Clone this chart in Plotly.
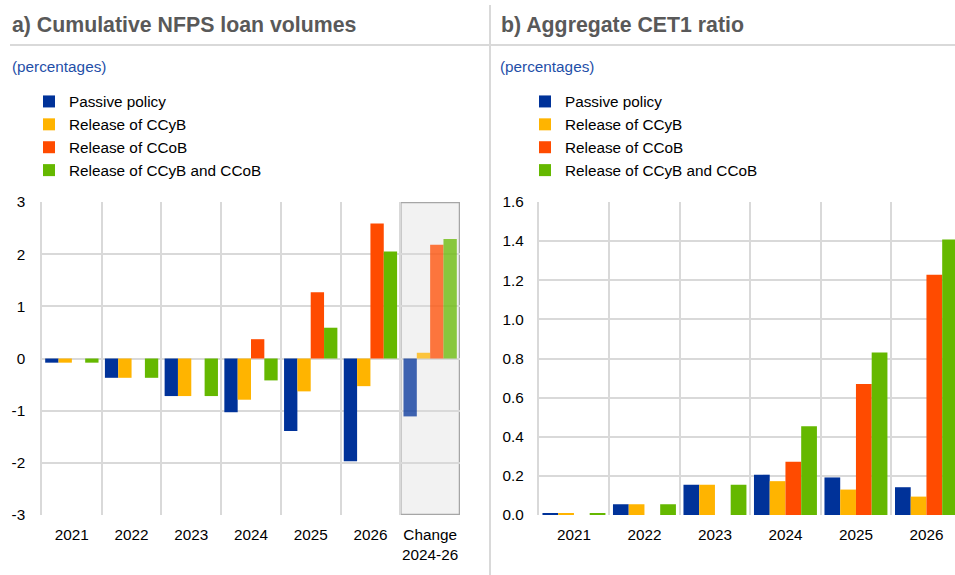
import plotly.graph_objects as go

# Panel a) cumulative NFPS loan volumes (percentages)
categories_a = ["2021", "2022", "2023", "2024", "2025", "2026", "Change<br>2024-26"]
passive_a = [-0.08, -0.37, -0.72, -1.03, -1.39, -1.97, -1.11]
ccyb_a = [-0.08, -0.37, -0.72, -0.79, -0.63, -0.53, 0.11]
ccob_a = [0.0, 0.0, 0.0, 0.37, 1.27, 2.59, 2.18]
both_a = [-0.08, -0.37, -0.72, -0.42, 0.59, 2.05, 2.29]
yticks_a = [-3, -2, -1, 0, 1, 2, 3]
yticklabels_a = ["-3", "-2", "-1", "0", "1", "2", "3"]

# Panel b) aggregate CET1 ratio (percentages)
categories_b = ["2021", "2022", "2023", "2024", "2025", "2026"]
passive_b = [0.006, 0.055, 0.154, 0.206, 0.192, 0.142]
ccyb_b = [0.006, 0.055, 0.154, 0.173, 0.130, 0.094]
ccob_b = [0.0, 0.0, 0.0, 0.272, 0.670, 1.228]
both_b = [0.006, 0.055, 0.154, 0.454, 0.831, 1.408]

series_names = ["Passive policy", "Release of CCyB", "Release of CCoB", "Release of CCyB and CCoB"]
colors = ["#003299", "#ffb400", "#ff4b00", "#65b800"]

W, H = 955, 575
FONT = "Arial, Liberation Sans, sans-serif"
GRID = "#d9d9d9"
FS = 15.3

fig = go.Figure()

# bars of the "Change" group are drawn lighter
op_a = [1, 1, 1, 1, 1, 1, 0.75]
for name, vals, col in zip(series_names, [passive_a, ccyb_a, ccob_a, both_a], colors):
    fig.add_trace(go.Bar(
        x=categories_a, y=vals, name=name, marker=dict(color=col, opacity=op_a, line=dict(width=0)),
        xaxis="x", yaxis="y", legend="legend", hoverinfo="x+y+name",
    ))
for name, vals, col in zip(series_names, [passive_b, ccyb_b, ccob_b, both_b], colors):
    fig.add_trace(go.Bar(
        x=categories_b, y=vals, name=name, marker=dict(color=col, line=dict(width=0)),
        xaxis="x2", yaxis="y2", legend="legend2", hoverinfo="x+y+name",
    ))

def px_x(p):
    return p / W

def px_y(p):
    return 1 - p / H

ydom = [px_y(515), px_y(202)]

common_x = dict(
    type="category", tickson="boundaries", showgrid=True, gridcolor=GRID, gridwidth=1.5,
    ticks="", ticklabelstandoff=9, showline=False, zeroline=False,
    tickangle=0, tickfont=dict(family=FONT, size=FS, color="#000000"),
)
common_y = dict(
    showgrid=True, gridcolor=GRID, gridwidth=1.5, zeroline=False,
    showline=True, linecolor=GRID, linewidth=1.5,
    ticks="outside", tickcolor="rgba(0,0,0,0)",
    tickfont=dict(family=FONT, size=FS, color="#000000"),
)
legend_common = dict(xanchor="left", yanchor="top", bgcolor="rgba(0,0,0,0)",
                     font=dict(family=FONT, size=FS, color="#000000"), traceorder="normal")

fig.update_layout(
    width=W, height=H, margin=dict(l=0, r=0, t=0, b=0),
    paper_bgcolor="white", plot_bgcolor="white", template="none",
    barmode="group", bargap=0.107, bargroupgap=0,
    font=dict(family=FONT, size=FS, color="#000000"),
    xaxis=dict(domain=[px_x(42), px_x(460)], range=[-0.5, 6.5], anchor="y", **common_x),
    yaxis=dict(domain=ydom, range=[-3, 3], tickvals=yticks_a, ticktext=yticklabels_a,
               anchor="x", ticklen=12, **common_y),
    xaxis2=dict(domain=[px_x(538.7), 1.0], range=[-0.5, -0.5 + (W - 538.7) / 70.5], anchor="y2", **common_x),
    yaxis2=dict(domain=ydom, range=[0, 1.6], dtick=0.2, tickformat=".1f", anchor="x2", ticklen=10, **common_y),
    legend=dict(x=px_x(29), y=px_y(85), **legend_common),
    legend2=dict(x=px_x(525), y=px_y(85), **legend_common),
    showlegend=True,
)

shapes = [
    # highlighted "Change" group
    dict(type="rect", xref="x", yref="y", x0=5.5, x1=6.5, y0=-3, y1=3, layer="below",
         fillcolor="#f2f2f2", line=dict(color="#a6a6a6", width=2.5)),
    # rule under the panel titles
    dict(type="line", xref="paper", yref="paper", x0=px_x(10), x1=1, y0=px_y(45), y1=px_y(45),
         line=dict(color=GRID, width=2)),
    # vertical panel separator
    dict(type="line", xref="paper", yref="paper", x0=px_x(490), x1=px_x(490), y0=0, y1=px_y(5),
         line=dict(color=GRID, width=2)),
]
fig.update_layout(shapes=shapes)

annotations = [
    dict(text="<b>a) Cumulative NFPS loan volumes</b>", x=px_x(10), y=px_y(25), xref="paper", yref="paper",
         xanchor="left", yanchor="middle", showarrow=False, font=dict(family=FONT, size=21.3, color="#595959")),
    dict(text="<b>b) Aggregate CET1 ratio</b>", x=px_x(499), y=px_y(25), xref="paper", yref="paper",
         xanchor="left", yanchor="middle", showarrow=False, font=dict(family=FONT, size=21.3, color="#595959")),
    dict(text="(percentages)", x=px_x(10), y=px_y(67), xref="paper", yref="paper",
         xanchor="left", yanchor="middle", showarrow=False, font=dict(family=FONT, size=FS, color="#1f4fa8")),
    dict(text="(percentages)", x=px_x(498), y=px_y(67), xref="paper", yref="paper",
         xanchor="left", yanchor="middle", showarrow=False, font=dict(family=FONT, size=FS, color="#1f4fa8")),
]
fig.update_layout(annotations=annotations)

fig.write_html("out.html")
